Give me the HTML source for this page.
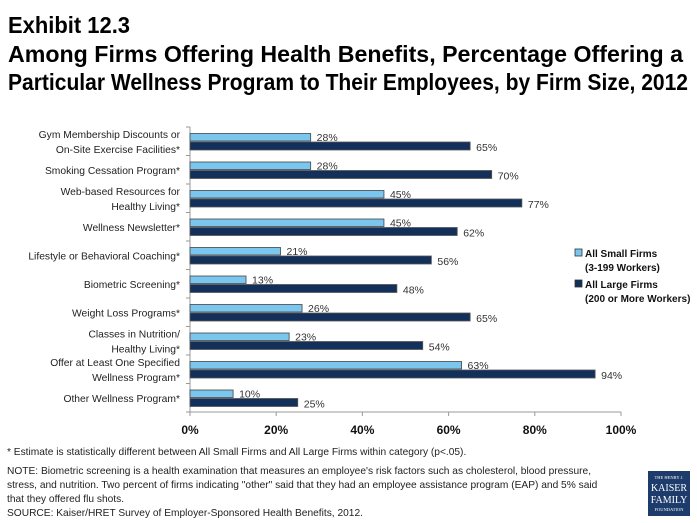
<!DOCTYPE html>
<html><head><meta charset="utf-8"><style>
body{margin:0;background:#fff}
svg{display:block;font-family:"Liberation Sans",sans-serif}
</style></head><body>
<svg id="c" width="697" height="523" viewBox="0 0 697 523">
<g font-weight="bold" fill="#000" font-family="'Liberation Sans Narrow','Liberation Sans',sans-serif">
<text x="8" y="33" font-size="23" textLength="122" lengthAdjust="spacingAndGlyphs">Exhibit 12.3</text>
<text x="8" y="62" font-size="23" textLength="675" lengthAdjust="spacingAndGlyphs">Among Firms Offering Health Benefits, Percentage Offering a</text>
<text x="8" y="90" font-size="23" textLength="680" lengthAdjust="spacingAndGlyphs">Particular Wellness Program to Their Employees, by Firm Size, 2012</text>
</g>
<g id="plot"></g>
<g font-size="10" font-weight="bold" fill="#111">
<rect x="575" y="249" width="7" height="7" fill="#7ac6ee" stroke="#333" stroke-width="0.8"/>
<text x="585" y="257">All Small Firms</text><text x="585" y="271">(3-199 Workers)</text>
<rect x="575" y="280" width="7" height="7" fill="#13305a" stroke="#333" stroke-width="0.8"/>
<text x="585" y="288">All Large Firms</text><text x="585" y="302">(200 or More Workers)</text>
</g>
<g font-size="10.2" fill="#222">
<text x="7" y="455">* Estimate is statistically different between All Small Firms and All Large Firms within category (p&lt;.05).</text>
<text x="7" y="474">NOTE: Biometric screening is a health examination that measures an employee's risk factors such as cholesterol, blood pressure,</text>
<text x="7" y="488">stress, and nutrition. Two percent of firms indicating "other" said that they had an employee assistance program (EAP)  and 5% said</text>
<text x="7" y="502">that they offered flu shots.</text>
<text x="7" y="516">SOURCE: Kaiser/HRET Survey of Employer-Sponsored Health Benefits, 2012.</text>
</g>
<g>
<rect x="648" y="471" width="42" height="45" fill="#1d3b6b"/>
<text x="669" y="479" font-size="4.5" fill="#fff" text-anchor="middle" font-family="'Liberation Serif',serif">THE HENRY J.</text>
<text x="669" y="491" font-size="10" fill="#fff" text-anchor="middle" font-family="'Liberation Serif',serif">KAISER</text>
<text x="669" y="503" font-size="10" fill="#fff" text-anchor="middle" font-family="'Liberation Serif',serif">FAMILY</text>
<text x="669" y="511" font-size="4.5" fill="#fff" text-anchor="middle" font-family="'Liberation Serif',serif">FOUNDATION</text>
</g>
</svg>
<script>
const categories=[["Gym Membership Discounts or","On-Site Exercise Facilities*"],["Smoking Cessation Program*"],["Web-based Resources for","Healthy Living*"],["Wellness Newsletter*"],["Lifestyle or Behavioral Coaching*"],["Biometric Screening*"],["Weight Loss Programs*"],["Classes in Nutrition/","Healthy Living*"],["Offer at Least One Specified","Wellness Program*"],["Other Wellness Program*"]];
const smallFirms=[28,28,45,45,21,13,26,23,63,10];
const largeFirms=[65,70,77,62,56,48,65,54,94,25];
const ticks=[0,20,40,60,80,100];
const NS="http://www.w3.org/2000/svg";
const g=document.getElementById('plot');
const X0=190,XW=431,Y0=127,BAND=28.5;
const xs=v=>X0+v/100*XW;
const ys=i=>Y0+i*BAND;
function mk(t,a,txt){const e=document.createElementNS(NS,t);for(const k in a)e.setAttribute(k,a[k]);if(txt!=null)e.textContent=txt;g.appendChild(e);return e;}
const ax=mk('line',{x1:X0,x2:X0,y1:Y0,y2:ys(categories.length),stroke:'#999'});


const bx=mk('line',{x1:X0,x2:X0+XW,y1:ys(categories.length),y2:ys(categories.length),stroke:'#999'});


for(let i=0;i<=categories.length;i++){mk('line',{x1:X0-4,x2:X0,y1:ys(i),y2:ys(i),stroke:'#999'});}
ticks.forEach(t=>{
 mk('line',{x1:xs(t),x2:xs(t),y1:ys(categories.length),y2:ys(categories.length)+4,stroke:'#999'});
 const tl=mk('text',{x:xs(t),y:ys(categories.length)+22,'font-size':12,'font-weight':'bold','text-anchor':'middle',fill:'#111'},t+'%');
 
 
});
categories.forEach((c,i)=>{
 const y=ys(i);
 const lines=c.length;
 c.forEach((s,j)=>{
  const t=mk('text',{x:180,y:y+BAND/2+4+(j-(lines-1)/2)*15,'font-size':10.3,'text-anchor':'end',fill:'#222'},s);
  
  
 });
 const b1=mk('rect',{x:X0,y:y+6.5,width:xs(smallFirms[i])-X0,height:7.5,fill:'#7ac6ee',stroke:'#444','stroke-width':0.8});
 
 
 const l1=mk('text',{x:xs(smallFirms[i])+6,y:y+14,'font-size':10.5,fill:'#333'},smallFirms[i]+'%');
 
 
 const b2=mk('rect',{x:X0,y:y+15,width:xs(largeFirms[i])-X0,height:8,fill:'#13305a',stroke:'#555','stroke-width':0.8});
 
 
 const l2=mk('text',{x:xs(largeFirms[i])+6,y:y+24,'font-size':10.5,fill:'#333'},largeFirms[i]+'%');
 
 
});
</script>
</body></html>
